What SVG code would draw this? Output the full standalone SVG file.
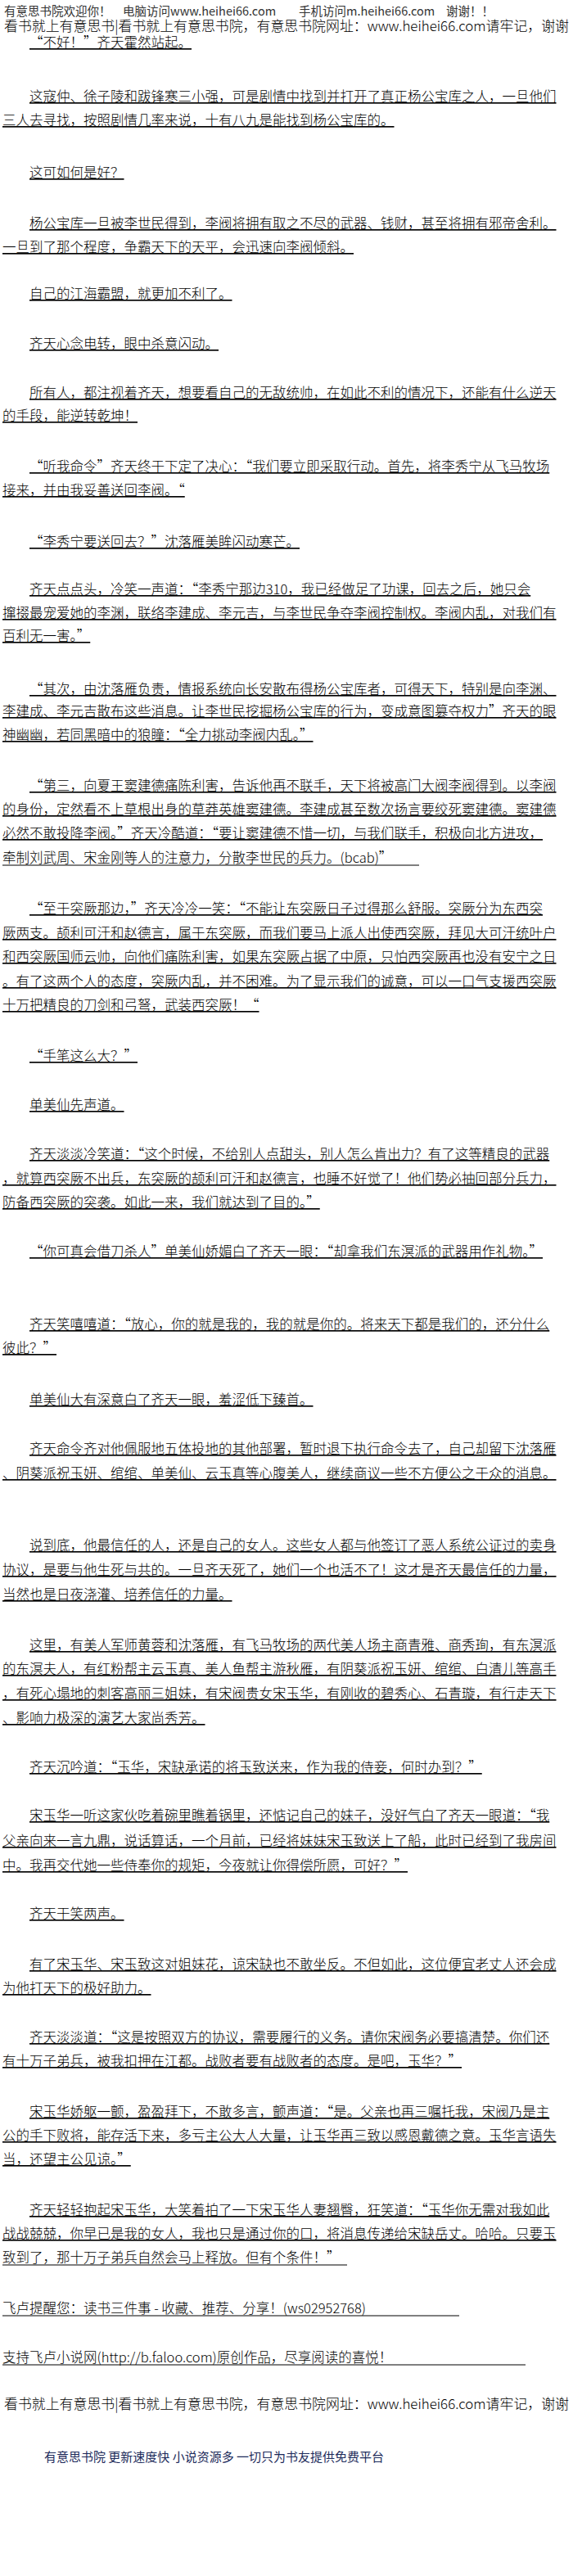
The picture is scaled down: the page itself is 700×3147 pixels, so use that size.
<svg xmlns="http://www.w3.org/2000/svg" width="700" height="3147" viewBox="0 0 700 3147">
<style>
text{font-family:"Noto Sans CJK SC","Noto Sans CJK TC",sans-serif;}
.b{font-size:16.5px;fill:#000;text-decoration:underline;font-weight:300;}
.n{font-size:16.5px;fill:#000;font-weight:300;}
.h1{font-size:14.5px;fill:#333;}
.h2{font-size:17px;fill:#000;font-weight:300;}
.f{font-size:15px;fill:#1c2a5a;}
.u{stroke:#000;stroke-width:1;}
</style>
<rect width="700" height="3147" fill="#fff"/>
<g id="header">
<text class="h1" y="18.5"><tspan x="5">有意思书院欢迎你！</tspan><tspan x="150">电脑访问www.heihei66.com</tspan><tspan x="365">手机访问m.heihei66.com</tspan><tspan x="545">谢谢！！</tspan></text>
<text class="h2" x="5" y="38" textLength="690" lengthAdjust="spacingAndGlyphs">看书就上有意思书|看书就上有意思书院，有意思书院网址：www.heihei66.com请牢记，谢谢</text>
</g>
<g id="body">
<g id="p1"><text class="b" x="36" y="58">“不好！”齐天霍然站起。</text></g>
<g id="p2"><text class="b" x="36" y="124">这寇仲、徐子陵和跋锋寒三小强，可是剧情中找到并打开了真正杨公宝库之人，一旦他们</text>
<text class="b" x="3" y="153">三人去寻找，按照剧情几率来说，十有八九是能找到杨公宝库的。</text></g>
<g id="p3"><text class="b" x="36" y="217">这可如何是好？</text></g>
<g id="p4"><text class="b" x="36" y="279">杨公宝库一旦被李世民得到，李阀将拥有取之不尽的武器、钱财，甚至将拥有邪帝舍利。</text>
<text class="b" x="3" y="308">一旦到了那个程度，争霸天下的天平，会迅速向李阀倾斜。</text></g>
<g id="p5"><text class="b" x="36" y="365">自己的江海霸盟，就更加不利了。</text></g>
<g id="p6"><text class="b" x="36" y="426">齐天心念电转，眼中杀意闪动。</text></g>
<g id="p7"><text class="b" x="36" y="486">所有人，都注视着齐天，想要看自己的无敌统帅，在如此不利的情况下，还能有什么逆天</text>
<text class="b" x="3" y="514">的手段，能逆转乾坤！</text></g>
<g id="p8"><text class="b" x="36" y="576">“听我命令”齐天终于下定了决心：“我们要立即采取行动。首先，将李秀宁从飞马牧场</text>
<text class="b" x="3" y="605">接来，并由我妥善送回李阀。“</text></g>
<g id="p9"><text class="b" x="36" y="668">“李秀宁要送回去？”沈落雁美眸闪动寒芒。</text></g>
<g id="p10"><text class="b" x="36" y="726">齐天点点头，冷笑一声道：“李秀宁那边310，我已经做足了功课，回去之后，她只会</text>
<text class="b" x="3" y="755">撺掇最宠爱她的李渊，联络李建成、李元吉，与李世民争夺李阀控制权。李阀内乱，对我们有</text>
<text class="b" x="3" y="783">百利无一害。”</text></g>
<g id="p11"><text class="b" x="36" y="848">“其次，由沈落雁负责，情报系统向长安散布得杨公宝库者，可得天下，特别是向李渊、</text>
<text class="b" x="3" y="875">李建成、李元吉散布这些消息。让李世民挖掘杨公宝库的行为，变成意图篡夺权力”齐天的眼</text>
<text class="b" x="3" y="904">神幽幽，若同黑暗中的狼瞳：“全力挑动李阀内乱。”</text></g>
<g id="p12"><text class="b" x="36" y="966">“第三，向夏王窦建德痛陈利害，告诉他再不联手，天下将被高门大阀李阀得到。以李阀</text>
<text class="b" x="3" y="995">的身份，定然看不上草根出身的草莽英雄窦建德。李建成甚至数次扬言要绞死窦建德。窦建德</text>
<text class="b" x="3" y="1024">必然不敢投降李阀。”齐天冷酷道：“要让窦建德不惜一切，与我们联手，积极向北方进攻，</text>
<text class="n" x="3" y="1054">牵制刘武周、宋金刚等人的注意力，分散李世民的兵力。(bcab)”</text>
<line class="u" x1="3" y1="1057" x2="512" y2="1057"/></g>
<g id="p13"><text class="b" x="36" y="1116">“至于突厥那边，”齐天冷冷一笑：“不能让东突厥日子过得那么舒服。突厥分为东西突</text>
<text class="b" x="3" y="1146">厥两支。颉利可汗和赵德言，属于东突厥，而我们要马上派人出使西突厥，拜见大可汗统叶户</text>
<text class="b" x="3" y="1175">和西突厥国师云帅，向他们痛陈利害，如果东突厥占据了中原，只怕西突厥再也没有安宁之日</text>
<text class="b" x="3" y="1205">。有了这两个人的态度，突厥内乱，并不困难。为了显示我们的诚意，可以一口气支援西突厥</text>
<text class="b" x="3" y="1234">十万把精良的刀剑和弓弩，武装西突厥！“</text></g>
<g id="p14"><text class="b" x="36" y="1296">“手笔这么大？”</text></g>
<g id="p15"><text class="b" x="36" y="1356">单美仙先声道。</text></g>
<g id="p16"><text class="b" x="36" y="1416">齐天淡淡冷笑道：“这个时候，不给别人点甜头，别人怎么肯出力？有了这等精良的武器</text>
<text class="b" x="3" y="1446">，就算西突厥不出兵，东突厥的颉利可汗和赵德言，也睡不好觉了！他们势必抽回部分兵力，</text>
<text class="b" x="3" y="1475">防备西突厥的突袭。如此一来，我们就达到了目的。”</text></g>
<g id="p17"><text class="b" x="36" y="1535">“你可真会借刀杀人”单美仙娇媚白了齐天一眼：“却拿我们东溟派的武器用作礼物。”</text></g>
<g id="p18"><text class="b" x="36" y="1624">齐天笑嘻嘻道：“放心，你的就是我的，我的就是你的。将来天下都是我们的，还分什么</text>
<text class="b" x="3" y="1653">彼此？”</text></g>
<g id="p19"><text class="b" x="36" y="1716">单美仙大有深意白了齐天一眼，羞涩低下臻首。</text></g>
<g id="p20"><text class="b" x="36" y="1776">齐天命令齐对他佩服地五体投地的其他部署，暂时退下执行命令去了，自己却留下沈落雁</text>
<text class="b" x="3" y="1806">、阴葵派祝玉妍、绾绾、单美仙、云玉真等心腹美人，继续商议一些不方便公之于众的消息。</text></g>
<g id="p21"><text class="b" x="36" y="1894">说到底，他最信任的人，还是自己的女人。这些女人都与他签订了恶人系统公证过的卖身</text>
<text class="b" x="3" y="1924">协议，是要与他生死与共的。一旦齐天死了，她们一个也活不了！这才是齐天最信任的力量，</text>
<text class="b" x="3" y="1954">当然也是日夜浇灌、培养信任的力量。</text></g>
<g id="p22"><text class="b" x="36" y="2016">这里，有美人军师黄蓉和沈落雁，有飞马牧场的两代美人场主商青雅、商秀珣，有东溟派</text>
<text class="b" x="3" y="2045">的东溟夫人，有红粉帮主云玉真、美人鱼帮主游秋雁，有阴葵派祝玉妍、绾绾、白清儿等高手</text>
<text class="b" x="3" y="2075">，有死心塌地的刺客高丽三姐妹，有宋阀贵女宋玉华，有刚收的碧秀心、石青璇，有行走天下</text>
<text class="b" x="3" y="2105">、影响力极深的演艺大家尚秀芳。</text></g>
<g id="p23"><text class="b" x="36" y="2165">齐天沉吟道：“玉华，宋缺承诺的将玉致送来，作为我的侍妾，何时办到？”</text></g>
<g id="p24"><text class="b" x="36" y="2224">宋玉华一听这家伙吃着碗里瞧着锅里，还惦记自己的妹子，没好气白了齐天一眼道：“我</text>
<text class="b" x="3" y="2255">父亲向来一言九鼎，说话算话，一个月前，已经将妹妹宋玉致送上了船，此时已经到了我房间</text>
<text class="b" x="3" y="2285">中。我再交代她一些侍奉你的规矩，今夜就让你得偿所愿，可好？”</text></g>
<g id="p25"><text class="b" x="36" y="2344">齐天干笑两声。</text></g>
<g id="p26"><text class="b" x="36" y="2406">有了宋玉华、宋玉致这对姐妹花，谅宋缺也不敢坐反。不但如此，这位便宜老丈人还会成</text>
<text class="b" x="3" y="2435">为他打天下的极好助力。</text></g>
<g id="p27"><text class="b" x="36" y="2495">齐天淡淡道：“这是按照双方的协议，需要履行的义务。请你宋阀务必要搞清楚。你们还</text>
<text class="b" x="3" y="2524">有十万子弟兵，被我扣押在江都。战败者要有战败者的态度。是吧，玉华？”</text></g>
<g id="p28"><text class="b" x="36" y="2586">宋玉华娇躯一颤，盈盈拜下，不敢多言，颤声道：“是。父亲也再三嘱托我，宋阀乃是主</text>
<text class="b" x="3" y="2615">公的手下败将，能存活下来，多亏主公大人大量，让玉华再三致以感恩戴德之意。玉华言语失</text>
<text class="b" x="3" y="2644">当，还望主公见谅。”</text></g>
<g id="p29"><text class="b" x="36" y="2706">齐天轻轻抱起宋玉华，大笑着拍了一下宋玉华人妻翘臀，狂笑道：“玉华你无需对我如此</text>
<text class="b" x="3" y="2735">战战兢兢，你早已是我的女人，我也只是通过你的口，将消息传递给宋缺岳丈。哈哈。只要玉</text>
<text class="n" x="3" y="2764">致到了，那十万子弟兵自然会马上释放。但有个条件！”</text>
<line class="u" x1="3" y1="2767" x2="424" y2="2767"/></g>
<g id="p30"><text class="n" x="3" y="2826">飞卢提醒您：读书三件事 - 收藏、推荐、分享！(ws02952768)</text>
<line class="u" x1="3" y1="2829" x2="561" y2="2829"/></g>
<g id="p31"><text class="n" x="3" y="2886">支持飞卢小说网(http://b.faloo.com)原创作品，尽享阅读的喜悦！</text>
<line class="u" x1="3" y1="2889" x2="642" y2="2889"/></g>
</g>
<g id="footer">
<text class="h2" x="5" y="2943" textLength="690" lengthAdjust="spacingAndGlyphs">看书就上有意思书|看书就上有意思书院，有意思书院网址：www.heihei66.com请牢记，谢谢</text>
<text class="f" x="54" y="3007">有意思书院 更新速度快 小说资源多 一切只为书友提供免费平台</text>
</g>
</svg>
